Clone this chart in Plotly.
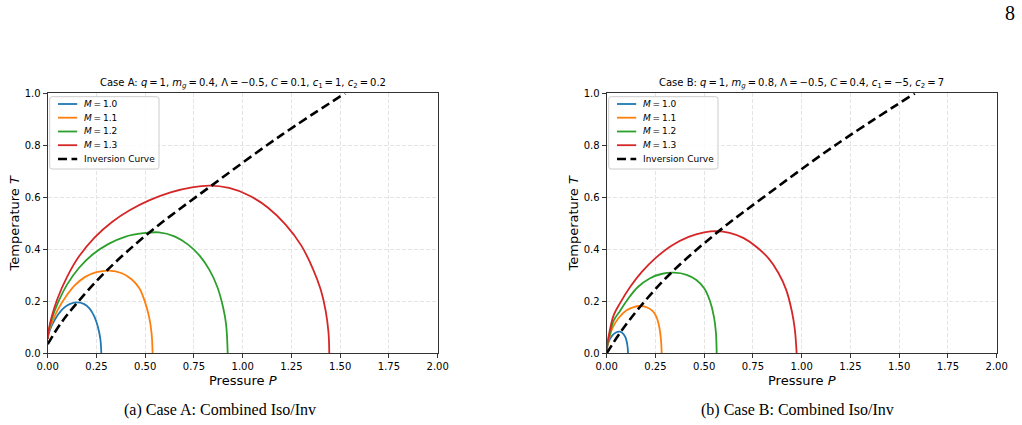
import plotly.graph_objects as go

# ---------------- data ----------------
# Case A
blue_A_P = [0, 0.005, 0.02, 0.045, 0.08, 0.115, 0.15, 0.185, 0.215, 0.24, 0.258, 0.27, 0.275]
blue_A_T = [0.055, 0.075, 0.105, 0.14, 0.173, 0.19, 0.196, 0.19, 0.172, 0.14, 0.1, 0.055, 0]
orange_A_P = [0, 0.005, 0.02, 0.05, 0.09, 0.14, 0.19, 0.25, 0.315, 0.38, 0.43, 0.47, 0.50, 0.52, 0.533, 0.538]
orange_A_T = [0.055, 0.08, 0.115, 0.165, 0.215, 0.262, 0.293, 0.312, 0.318, 0.308, 0.285, 0.25, 0.195, 0.14, 0.075, 0]
green_A_P = [0, 0.005, 0.02, 0.05, 0.10, 0.16, 0.23, 0.31, 0.40, 0.49, 0.57, 0.65, 0.72, 0.78, 0.83, 0.87, 0.90, 0.915, 0.923]
green_A_T = [0.055, 0.085, 0.13, 0.19, 0.265, 0.328, 0.38, 0.42, 0.449, 0.462, 0.465, 0.45, 0.418, 0.375, 0.32, 0.255, 0.175, 0.11, 0]
red_A_P = [0, 0.005, 0.02, 0.05, 0.10, 0.16, 0.24, 0.33, 0.42, 0.52, 0.63, 0.74, 0.83, 0.93, 1.03, 1.13, 1.22, 1.30, 1.36, 1.40, 1.425, 1.44, 1.444]
red_A_T = [0.055, 0.088, 0.14, 0.21, 0.295, 0.372, 0.445, 0.505, 0.55, 0.588, 0.619, 0.638, 0.645, 0.636, 0.608, 0.56, 0.495, 0.415, 0.325, 0.245, 0.165, 0.08, 0]
inv_A_P = [0, 0.067, 0.15, 0.30, 0.52, 0.84, 1.2, 1.525]
inv_A_T = [0.035, 0.115, 0.193, 0.316, 0.464, 0.645, 0.84, 1.0]

# Case B
blue_B_P = [0, 0.004, 0.012, 0.025, 0.045, 0.067, 0.085, 0.097, 0.104, 0.108, 0.109]
blue_B_T = [0.012, 0.03, 0.048, 0.065, 0.079, 0.083, 0.075, 0.06, 0.04, 0.018, 0]
orange_B_P = [0, 0.004, 0.012, 0.03, 0.06, 0.10, 0.135, 0.172, 0.205, 0.235, 0.255, 0.27, 0.278, 0.282]
orange_B_T = [0.012, 0.03, 0.055, 0.098, 0.135, 0.165, 0.177, 0.182, 0.177, 0.163, 0.14, 0.10, 0.055, 0]
green_B_P = [0, 0.004, 0.015, 0.035, 0.07, 0.11, 0.16, 0.22, 0.28, 0.345, 0.41, 0.46, 0.50, 0.53, 0.55, 0.56, 0.564]
green_B_T = [0.012, 0.035, 0.07, 0.125, 0.165, 0.21, 0.255, 0.288, 0.305, 0.31, 0.302, 0.282, 0.25, 0.20, 0.14, 0.08, 0]
red_B_P = [0, 0.004, 0.015, 0.035, 0.07, 0.12, 0.18, 0.25, 0.33, 0.42, 0.50, 0.564, 0.63, 0.70, 0.77, 0.83, 0.88, 0.92, 0.95, 0.965, 0.974]
red_B_T = [0.012, 0.04, 0.085, 0.145, 0.195, 0.255, 0.313, 0.366, 0.413, 0.448, 0.465, 0.47, 0.463, 0.444, 0.408, 0.365, 0.31, 0.245, 0.16, 0.09, 0]
inv_B_P = [0, 0.067, 0.169, 0.331, 0.572, 0.82, 1.162, 1.58]
inv_B_T = [0, 0.077, 0.177, 0.31, 0.468, 0.609, 0.795, 1.0]

mass_labels = ["<i>M</i> = 1.0", "<i>M</i> = 1.1", "<i>M</i> = 1.2", "<i>M</i> = 1.3"]
inv_label = "Inversion Curve"
x_ticks = [0, 0.25, 0.5, 0.75, 1.0, 1.25, 1.5, 1.75, 2.0]
y_ticks = [0, 0.2, 0.4, 0.6, 0.8, 1.0]

E = "\u2009=\u2009"
titles = [
    f"Case A: <i>q</i>{E}1, <i>m<sub>g</sub></i>{E}0.4, Λ{E}−0.5, <i>C</i>{E}0.1, <i>c</i><sub>1</sub>{E}1, <i>c</i><sub>2</sub>{E}0.2",
    f"Case B: <i>q</i>{E}1, <i>m<sub>g</sub></i>{E}0.8, Λ{E}−0.5, <i>C</i>{E}0.4, <i>c</i><sub>1</sub>{E}−5, <i>c</i><sub>2</sub>{E}7",
]
captions = ["(a) Case A: Combined Iso/Inv", "(b) Case B: Combined Iso/Inv"]

colors = ["#1f77b4", "#ff7f0e", "#2ca02c", "#d62728"]

# ---------------- layout geometry (pixels) ----------------
W, H = 1022, 425
FONT = "DejaVu Sans"
plot_left = [47.7, 606.7]
plot_w = 390.0
plot_top, plot_bot = 93.3, 353.3


def px(x):
    return x / W


def py(y):
    return 1 - y / H


fig = go.Figure()

case_curves = [
    [(blue_A_P, blue_A_T), (orange_A_P, orange_A_T), (green_A_P, green_A_T), (red_A_P, red_A_T)],
    [(blue_B_P, blue_B_T), (orange_B_P, orange_B_T), (green_B_P, green_B_T), (red_B_P, red_B_T)],
]
inv_curves = [(inv_A_P, inv_A_T), (inv_B_P, inv_B_T)]
DASH = "9px,4.5px"

for k in range(2):
    xa = "x" if k == 0 else "x2"
    ya = "y" if k == 0 else "y2"
    for (P, T), c, name in zip(case_curves[k], colors, mass_labels):
        fig.add_trace(go.Scatter(x=P, y=T, mode="lines", name=name, xaxis=xa, yaxis=ya,
                                 line=dict(color=c, width=1.8, shape="spline", smoothing=1.0),
                                 showlegend=False))
    P, T = inv_curves[k]
    fig.add_trace(go.Scatter(x=P, y=T, mode="lines", name=inv_label, xaxis=xa, yaxis=ya,
                             line=dict(color="black", width=2.6, dash=DASH, shape="spline", smoothing=1.0),
                             showlegend=False))

axis_common = dict(showline=True, mirror=True, linecolor="#333333", linewidth=1.2,
                   ticks="outside", ticklen=4, tickwidth=1, tickcolor="#333333",
                   showgrid=True, gridcolor="#e4e4e4", griddash="4px,2px", gridwidth=0.8,
                   zeroline=False, automargin=False,
                   tickfont=dict(family=FONT, size=10, color="black"))

shapes = []
annotations = []
for k in range(2):
    x0 = plot_left[k]
    dom_x = [px(x0), px(x0 + plot_w)]
    dom_y = [py(plot_bot), py(plot_top)]
    sfx = "" if k == 0 else "2"
    fig.layout["xaxis" + sfx] = dict(domain=dom_x, range=[0, 2], tickvals=x_ticks, tickformat=".2f",
                                     anchor="y" + sfx, **axis_common)
    fig.layout["yaxis" + sfx] = dict(domain=dom_y, range=[0, 1], tickvals=y_ticks, tickformat=".1f",
                                     anchor="x" + sfx, **axis_common)

    # subplot title
    annotations.append(dict(x=px(x0 + plot_w / 2), y=py(83), xref="paper", yref="paper",
                            text=titles[k], showarrow=False, xanchor="center", yanchor="middle",
                            font=dict(family=FONT, size=10, color="black")))
    # axis labels
    annotations.append(dict(x=px(x0 + plot_w / 2), y=py(380), xref="paper", yref="paper",
                            text="Pressure <i>P</i>", showarrow=False, xanchor="center", yanchor="middle",
                            font=dict(family=FONT, size=13, color="black")))
    annotations.append(dict(x=px(x0 - 33.5), y=py((plot_top + plot_bot) / 2), xref="paper", yref="paper",
                            text="Temperature <i>T</i>", showarrow=False, textangle=-90,
                            xanchor="center", yanchor="middle",
                            font=dict(family=FONT, size=13, color="black")))
    # caption
    cx = [220, 797][k]
    annotations.append(dict(x=px(cx), y=py(410), xref="paper", yref="paper",
                            text=captions[k], showarrow=False, xanchor="center", yanchor="middle",
                            font=dict(family="Liberation Serif", size=16, color="black")))

    # legend box (rounded rect)
    bx0, bx1 = x0 + 2.0, x0 + 111.3
    by0, by1 = 96.7, 169.0
    r = 2.5
    path = (f"M {px(bx0 + r)} {py(by0)} L {px(bx1 - r)} {py(by0)} "
            f"Q {px(bx1)} {py(by0)} {px(bx1)} {py(by0 + r)} L {px(bx1)} {py(by1 - r)} "
            f"Q {px(bx1)} {py(by1)} {px(bx1 - r)} {py(by1)} L {px(bx0 + r)} {py(by1)} "
            f"Q {px(bx0)} {py(by1)} {px(bx0)} {py(by1 - r)} L {px(bx0)} {py(by0 + r)} "
            f"Q {px(bx0)} {py(by0)} {px(bx0 + r)} {py(by0)} Z")
    shapes.append(dict(type="path", path=path, xref="paper", yref="paper",
                       line=dict(color="#cccccc", width=1), fillcolor="rgba(255,255,255,0.85)", layer="above"))
    entry_y = [104.0, 117.7, 131.5, 145.2, 159.0]
    labels = mass_labels + [inv_label]
    for i, lab in enumerate(labels):
        yy = entry_y[i]
        if i < 4:
            shapes.append(dict(type="line", xref="paper", yref="paper",
                               x0=px(x0 + 10.3), x1=px(x0 + 29.5), y0=py(yy), y1=py(yy),
                               line=dict(color=colors[i], width=1.8), layer="above"))
        else:
            shapes.append(dict(type="line", xref="paper", yref="paper",
                               x0=px(x0 + 10.3), x1=px(x0 + 29.5), y0=py(yy), y1=py(yy),
                               line=dict(color="black", width=2.6, dash=DASH), layer="above"))
        annotations.append(dict(x=px(x0 + 34), y=py(yy), xref="paper", yref="paper",
                                text=lab.replace(" = ", E), showarrow=False, xanchor="left", yanchor="middle",
                                font=dict(family=FONT, size=9, color="black")))

# page number
annotations.append(dict(x=px(1010), y=py(13), xref="paper", yref="paper", text="8", showarrow=False,
                        xanchor="center", yanchor="middle",
                        font=dict(family="Liberation Serif", size=20, color="black")))

fig.update_layout(width=W, height=H, autosize=False, margin=dict(l=0, r=0, t=0, b=0),
                  paper_bgcolor="white", plot_bgcolor="white", showlegend=False,
                  shapes=shapes, annotations=annotations)

fig.write_html("out.html")
